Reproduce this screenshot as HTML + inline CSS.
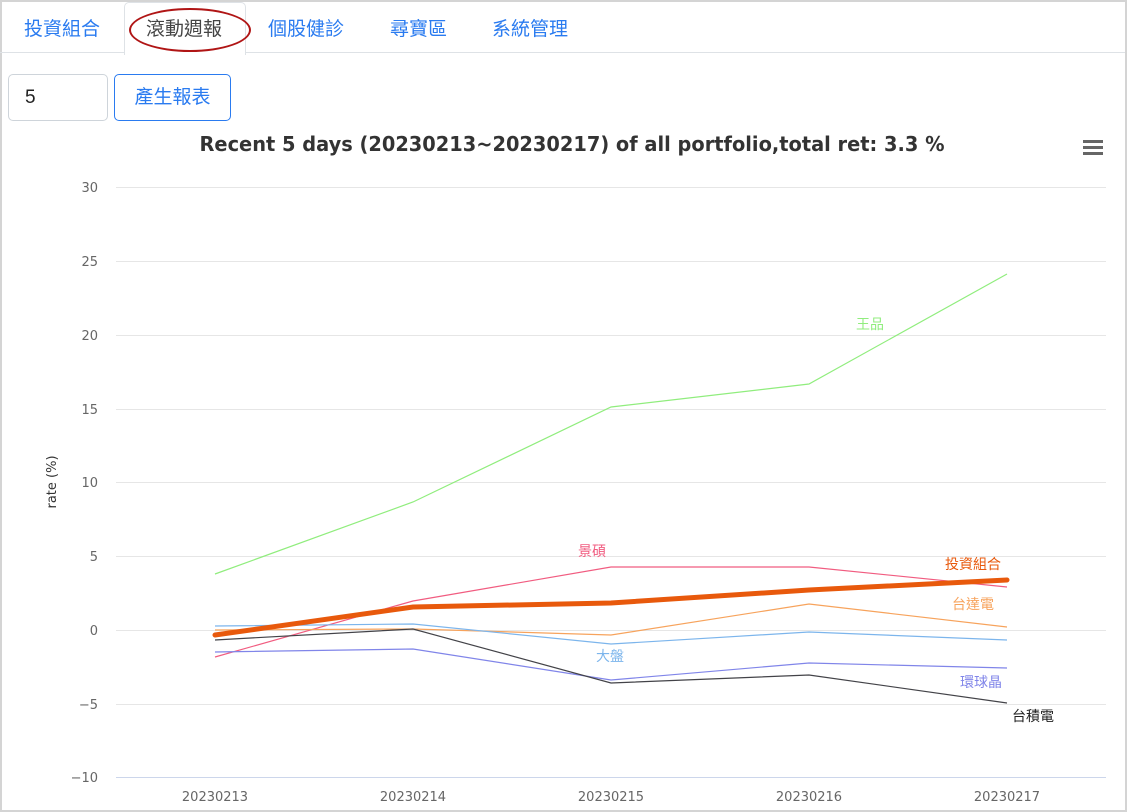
<!DOCTYPE html>
<html><head><meta charset="utf-8"><style>
body{margin:0;width:1127px;height:812px;overflow:hidden;background:#fff;font-family:"Liberation Sans","Noto Sans CJK TC",sans-serif;}
.frame{position:absolute;left:0;top:0;width:1123px;height:808px;border:2px solid #d4d4d4;}
.tab{position:absolute;top:14px;font-size:19px;color:#2a7bf0;}
.active{position:absolute;left:124px;top:2px;width:120px;height:52px;border:1px solid #dee2e6;border-bottom:none;border-radius:5px 5px 0 0;background:#fff;}
.line{position:absolute;left:0;top:52px;width:1125px;height:1px;background:#dee2e6;}
.inp{position:absolute;left:8px;top:74px;width:98px;height:45px;border:1px solid #ced4da;border-radius:5px;font-size:19px;line-height:45px;text-indent:16px;color:#222;}
.btn{position:absolute;left:114px;top:74px;width:115px;height:45px;border:1px solid #2a7bf0;border-radius:5px;font-size:19px;line-height:45px;text-align:center;color:#2a7bf0;}
</style></head><body>
<div class="frame"></div>
<div class="line"></div>
<div class="active"></div>
<div class="tab" style="left:24px">投資組合</div>
<div class="tab" style="left:146px;color:#444">滾動週報</div>
<div style="position:absolute;left:129px;top:8px;width:118px;height:40px;border:2px solid #b01515;border-radius:50%;"></div>
<div class="tab" style="left:268px">個股健診</div>
<div class="tab" style="left:390px">尋寶區</div>
<div class="tab" style="left:492px">系統管理</div>
<div class="inp">5</div>
<div class="btn">產生報表</div>
<svg style="position:absolute;left:0;top:0" width="1127" height="812">
<text x="572" y="151" text-anchor="middle" font-size="20" font-weight="bold" fill="#333" font-family="DejaVu Sans, sans-serif" textLength="745" lengthAdjust="spacingAndGlyphs">Recent 5 days (20230213~20230217) of all portfolio,total ret: 3.3 %</text>
<g fill="#666"><rect x="1083" y="140" width="20" height="3"/><rect x="1083" y="146" width="20" height="3"/><rect x="1083" y="152" width="20" height="3"/></g>
<g stroke="#e6e6e6" stroke-width="1">
<line x1="116" x2="1106" y1="187.5" y2="187.5"/><line x1="116" x2="1106" y1="261.5" y2="261.5"/><line x1="116" x2="1106" y1="335.5" y2="335.5"/><line x1="116" x2="1106" y1="409.5" y2="409.5"/><line x1="116" x2="1106" y1="482.5" y2="482.5"/><line x1="116" x2="1106" y1="556.5" y2="556.5"/><line x1="116" x2="1106" y1="630.5" y2="630.5"/><line x1="116" x2="1106" y1="704.5" y2="704.5"/></g>
<line x1="116" x2="1106" y1="777.5" y2="777.5" stroke="#ccd6eb"/>
<g font-size="13" fill="#666" text-anchor="end" font-family="DejaVu Sans, sans-serif">
<text x="98" y="192">30</text><text x="98" y="266">25</text><text x="98" y="340">20</text><text x="98" y="414">15</text><text x="98" y="487">10</text><text x="98" y="561">5</text><text x="98" y="635">0</text><text x="98" y="709">−5</text><text x="98" y="782">−10</text></g>
<g font-size="13" fill="#666" text-anchor="middle" font-family="DejaVu Sans, sans-serif">
<text x="215" y="801">20230213</text><text x="413" y="801">20230214</text><text x="611" y="801">20230215</text><text x="809" y="801">20230216</text><text x="1007" y="801">20230217</text></g>
<text transform="translate(56,482) rotate(-90)" text-anchor="middle" font-size="13" fill="#333" font-family="DejaVu Sans, sans-serif">rate (%)</text>
<g fill="none" stroke-width="1.2">
<polyline stroke="#90ed7d" points="215,574 413,502 611,407 809,384 1007,274"/>
<polyline stroke="#f15c80" points="215,657 413,601 611,567 809,567 1007,587"/>
<polyline stroke="#f7a35c" points="215,630 413,629 611,635 809,604 1007,627"/>
<polyline stroke="#7cb5ec" points="215,626 413,624 611,644 809,632 1007,640"/>
<polyline stroke="#8085e9" points="215,652 413,649 611,680 809,663 1007,668"/>
<polyline stroke="#434348" points="215,640 413,629 611,683 809,675 1007,703"/>
<polyline stroke="#e8590c" stroke-width="5" stroke-linecap="round" points="215,635 413,607 611,603 809,590 1007,580"/>
</g>
<g font-size="14" font-family="Liberation Sans, Noto Sans CJK TC, sans-serif">
<text x="856" y="329" fill="#90ed7d">王品</text>
<text x="578" y="556" fill="#f15c80">景碩</text>
<text x="945" y="569" fill="#e8590c">投資組合</text>
<text x="952" y="609" fill="#f7a35c">台達電</text>
<text x="596" y="661" fill="#7cb5ec">大盤</text>
<text x="960" y="687" fill="#8085e9">環球晶</text>
<text x="1012" y="721" fill="#222">台積電</text>
</g>
</svg>
</body></html>
